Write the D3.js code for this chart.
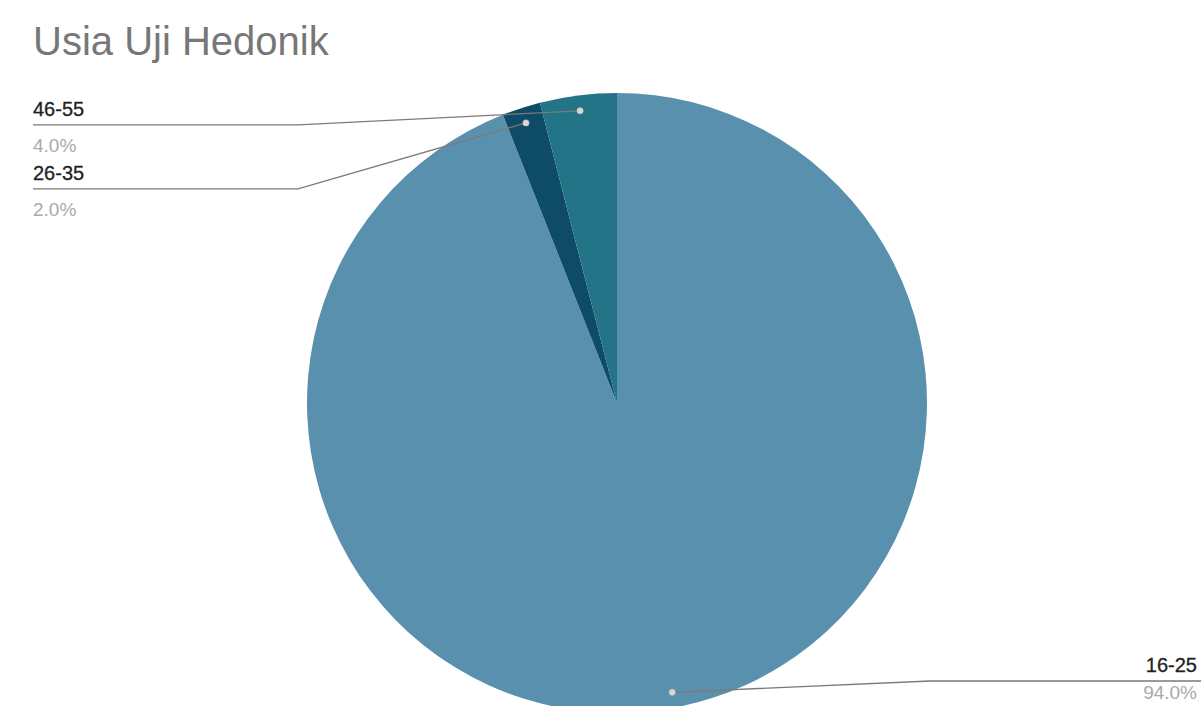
<!DOCTYPE html>
<html>
<head>
<meta charset="utf-8">
<script src="https://cdn.jsdelivr.net/npm/d3@7"></script>
<style>
  body { margin: 0; background: #fff; }
  svg { display: block; font-family: "Liberation Sans", Arial, sans-serif; }
</style>
</head>
<body>
<div id="chart"></div>
<script>
var title = "Usia Uji Hedonik";
var categories = ["16-25", "26-35", "46-55"];
var values = [94, 2, 4];
var percentLabels = ["94.0%", "2.0%", "4.0%"];
var colors = ["#5990ae", "#0d4b67", "#227486"];

var width = 1201,
    height = 706,
    cx = 617,
    cy = 403,
    radius = 310;

var svg = d3.select("#chart").append("svg")
    .attr("width", width)
    .attr("height", height);

svg.append("text")
    .attr("x", 33)
    .attr("y", 55)
    .style("font-size", "40px")
    .style("fill", "#777777")
    .text(title);

var pie = d3.pie().sort(null).value(function (d) { return d; });
var arc = d3.arc().innerRadius(0).outerRadius(radius);
var dotArc = d3.arc().innerRadius(radius * 0.95).outerRadius(radius * 0.95);

var arcs = pie(values);

var g = svg.append("g")
    .attr("transform", "translate(" + cx + "," + cy + ")");

g.selectAll(".slice")
    .data(arcs)
    .enter().append("path")
    .attr("class", "slice")
    .attr("d", arc)
    .style("fill", function (d, i) { return colors[i]; });

// label layout: left side stacked downward, right side clamped at bottom
var labels = arcs.map(function (d, i) {
    var p = dotArc.centroid(d);
    var mid = (d.startAngle + d.endAngle) / 2;
    return {
        i: i,
        px: cx + p[0],
        py: cy + p[1],
        left: mid > Math.PI,
        ly: cy + p[1] + 14
    };
});

var leftLabels = labels.filter(function (l) { return l.left; })
    .sort(function (a, b) { return a.py - b.py; });
for (var k = 1; k < leftLabels.length; k++) {
    leftLabels[k].ly = Math.max(leftLabels[k].ly, leftLabels[k - 1].ly + 64);
}
labels.forEach(function (l) {
    l.ly = Math.min(l.ly, 681);
    l.textX = l.left ? 33 : 1197;
    l.elbowX = l.left ? 298 : 930;
});

var lab = svg.append("g").selectAll(".label")
    .data(labels)
    .enter().append("g")
    .attr("class", "label");

lab.append("polyline")
    .attr("points", function (l) {
        return [[l.left ? l.textX : width, l.ly], [l.elbowX, l.ly], [l.px, l.py]].join(" ");
    })
    .style("fill", "none")
    .style("stroke", "#7a7a7a")
    .style("stroke-width", 1.3);

lab.append("circle")
    .attr("cx", function (l) { return l.px; })
    .attr("cy", function (l) { return l.py; })
    .attr("r", 3.2)
    .style("fill", "#d8d8d8")
    .style("stroke", "#aaaaaa")
    .style("stroke-width", 0.5);

lab.append("text")
    .attr("x", function (l) { return l.textX; })
    .attr("y", function (l) { return l.ly - 9; })
    .attr("text-anchor", function (l) { return l.left ? "start" : "end"; })
    .style("font-size", "20px")
    .style("fill", "#222")
    .style("stroke", "#222")
    .style("stroke-width", 0.3)
    .text(function (l) { return categories[l.i]; });

lab.append("text")
    .attr("x", function (l) { return l.textX; })
    .attr("y", function (l) { return Math.min(l.ly + 27, height - 7); })
    .attr("text-anchor", function (l) { return l.left ? "start" : "end"; })
    .style("font-size", "19px")
    .style("fill", "#aaaaaa")
    .text(function (l) { return percentLabels[l.i]; });
</script>
</body>
</html>
